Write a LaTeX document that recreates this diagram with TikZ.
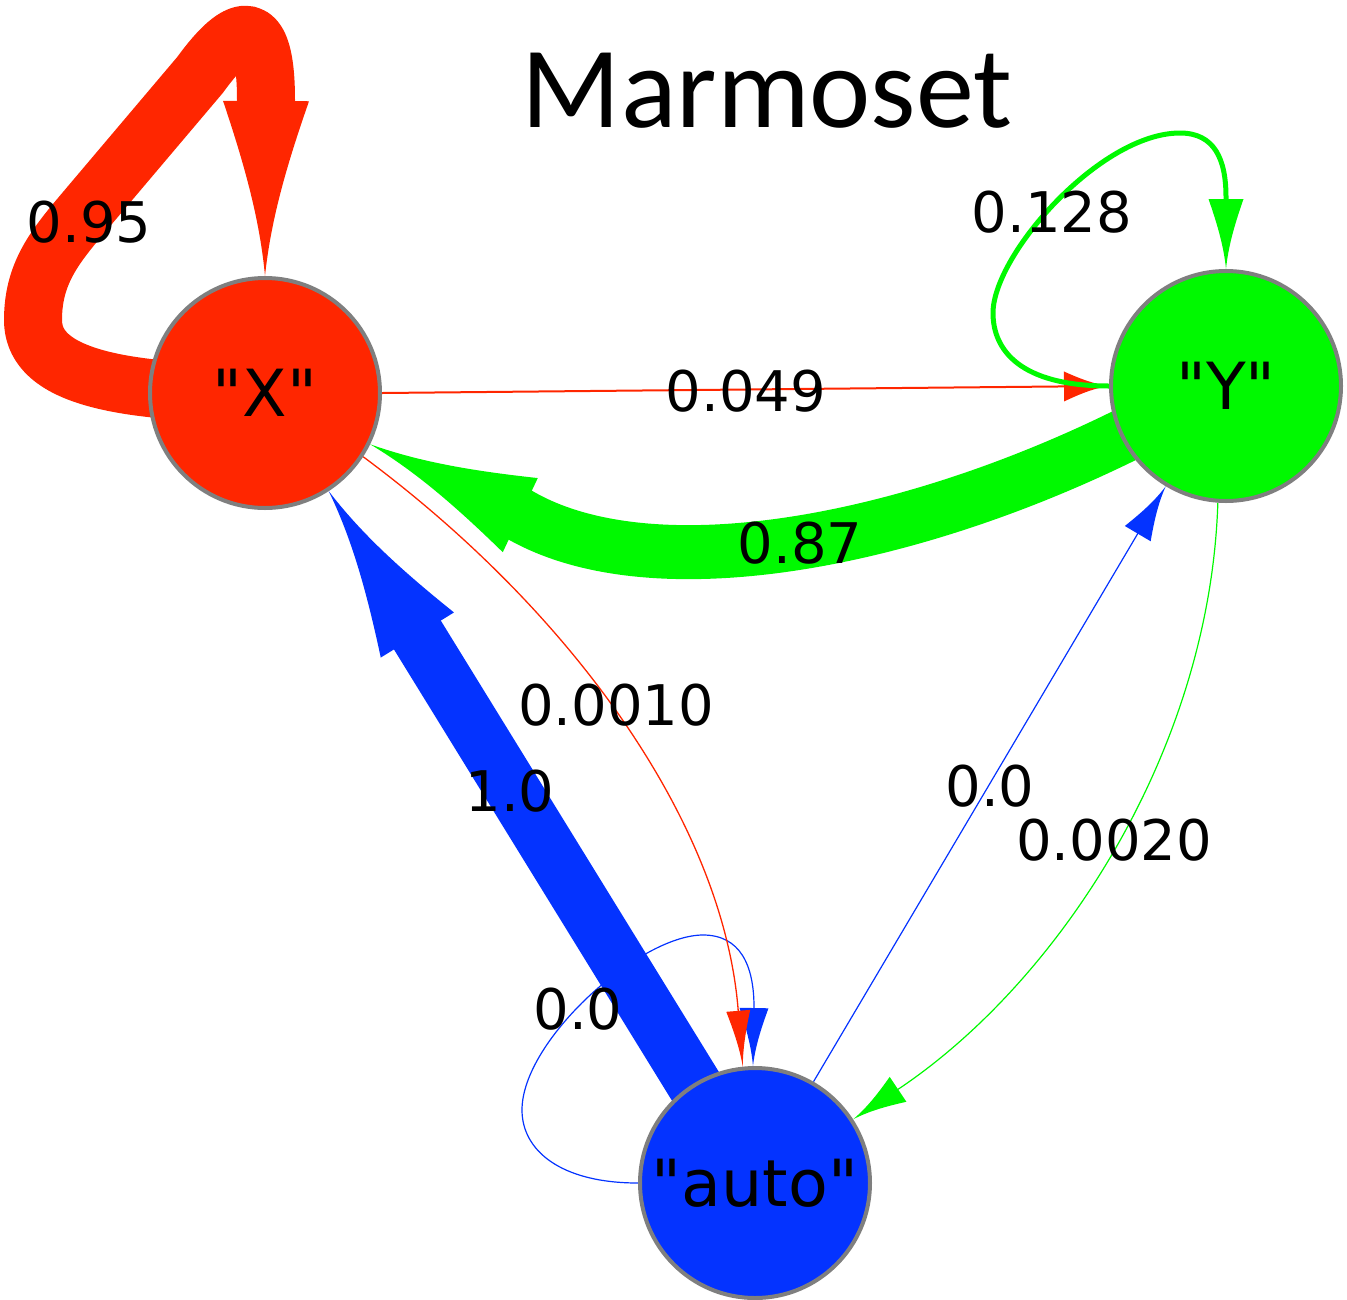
\documentclass[tikz,border=0pt]{standalone}
\usepackage{fontspec}
\setmainfont{DejaVu Sans}[Ligatures=TeXOff]
\newfontfamily\titlefont{Carlito}
\usetikzlibrary{arrows.meta,backgrounds}
\definecolor{cred}{HTML}{FF2600}
\definecolor{cgreen}{HTML}{00F900}
\definecolor{cblue}{HTML}{0433FF}
\definecolor{cgray}{HTML}{7F7F7F}
\pgfdeclarearrow{
  name = Flare,
  parameters = {\the\pgfarrowlength,\the\pgfarrowwidth},
  setup code = {
    \pgfarrowssettipend{0pt}
    \pgfarrowssetlineend{-.9\pgfarrowlength}
    \pgfarrowssetvisualbackend{-\pgfarrowlength}
    \pgfarrowssetbackend{-\pgfarrowlength}
    \pgfarrowshullpoint{0pt}{0pt}
    \pgfarrowsupperhullpoint{-\pgfarrowlength}{.5\pgfarrowwidth}
    \pgfarrowssavethe\pgfarrowlength
    \pgfarrowssavethe\pgfarrowwidth
  },
  drawing code = {
    \pgfpathmoveto{\pgfpointorigin}
    \pgfpathcurveto{\pgfpoint{-.3\pgfarrowlength}{.06\pgfarrowwidth}}{\pgfpoint{-.6\pgfarrowlength}{.22\pgfarrowwidth}}{\pgfpoint{-\pgfarrowlength}{.5\pgfarrowwidth}}
    \pgfpathlineto{\pgfpoint{-\pgfarrowlength}{-.5\pgfarrowwidth}}
    \pgfpathcurveto{\pgfpoint{-.6\pgfarrowlength}{-.22\pgfarrowwidth}}{\pgfpoint{-.3\pgfarrowlength}{-.06\pgfarrowwidth}}{\pgfpointorigin}
    \pgfpathclose
    \pgfusepathqfill
  },
  defaults = {length = 10pt, width = 8pt}
}
\begin{document}
\begin{tikzpicture}[x=1pt,y=-1pt,
  state/.style={circle,draw=cgray,line width=4pt,minimum size=230pt,inner sep=0pt,font=\fontsize{65}{72}\selectfont},
  lbl/.style={font=\fontsize{56}{60}\selectfont,inner sep=0pt,text=black},
  edge/.style={line join=round}]
\useasboundingbox (0,0) rectangle (1347,1299);
\node[state,fill=cred] (X) at (265,393) {"X"};
\node[state,fill=cgreen] (Y) at (1226,386) {"Y"};
\node[state,fill=cblue] (A) at (755,1183) {"auto"};
\node[font=\titlefont\fontsize{116}{120}\selectfont,anchor=base,inner sep=0pt] (title) at (767,127) {Marmoset};
\begin{pgfonlayer}{background}
% X self loop
\draw[edge,cred,line width=58pt,-{Flare[length=175pt,width=86pt]}] (X.center) .. controls (100,394) and (33,370) .. (33,320) .. controls (33,270) and (58,243) .. (90,205) -- (200,75) .. controls (240,20) and (266,15) .. (266,100) -- (X.90);
% X -> Y
\draw[edge,cred,line width=2pt,-{Flare[length=45pt,width=30pt]}] (X.0) -- (Y.180);
% Y self loop
\draw[edge,cgreen,line width=5pt,-{Flare[length=70pt,width=35pt]}] (Y.180) .. controls (1020,386) and (993,350) .. (993,313) .. controls (993,255) and (1100,133) .. (1180,133) .. controls (1215,133) and (1226,160) .. (1226,197) -- (Y.90);
% Y -> X
\draw[edge,cgreen,line width=54pt,-{Flare[length=166pt,width=82pt]}] (Y.center) -- (Y.206) .. controls (900,545) and (650,590) .. (520,515) -- (X.-26);
% auto self loop
\draw[edge,cblue,line width=1.2pt,-{Flare[length=58pt,width=29pt]}] (A.180) .. controls (560,1183) and (522,1150) .. (522,1110) .. controls (522,1040) and (640,935) .. (703,935) .. controls (740,935) and (754,965) .. (754,1007) -- (A.91);
% auto -> X
\draw[edge,cblue,line width=55pt,-{Flare[length=169pt,width=86pt]}] (A.center) -- (X.-57);
% X -> auto
\draw[edge,cred,line width=1.3pt,-{Flare[length=56pt,width=24pt]}] (X.-33) .. controls (570,610) and (722,820) .. (738,1008) -- (A.96);
% auto -> Y
\draw[edge,cblue,line width=1.2pt,-{Flare[length=55pt,width=30pt]}] (A.60) -- (Y.-121);
% Y -> auto
\draw[edge,cgreen,line width=1.2pt,-{Flare[length=54pt,width=30pt]}] (Y.-94) .. controls (1210,750) and (1060,980) .. (900,1088) -- (A.33);
\end{pgfonlayer}
\node[lbl] (l95) at (89,222) {0.95};
\node[lbl] (l049) at (746,391) {0.049};
\node[lbl] (l128) at (1052,212) {0.128};
\node[lbl] (l87) at (800,543) {0.87};
\node[lbl] (l0010) at (616,705) {0.0010};
\node[lbl] (l10) at (510,791) {1.0};
\node[lbl] (l00a) at (578,1009) {0.0};
\node[lbl] (l00b) at (990,786) {0.0};
\node[lbl] (l0020) at (1114,840) {0.0020};
\end{tikzpicture}
\end{document}
